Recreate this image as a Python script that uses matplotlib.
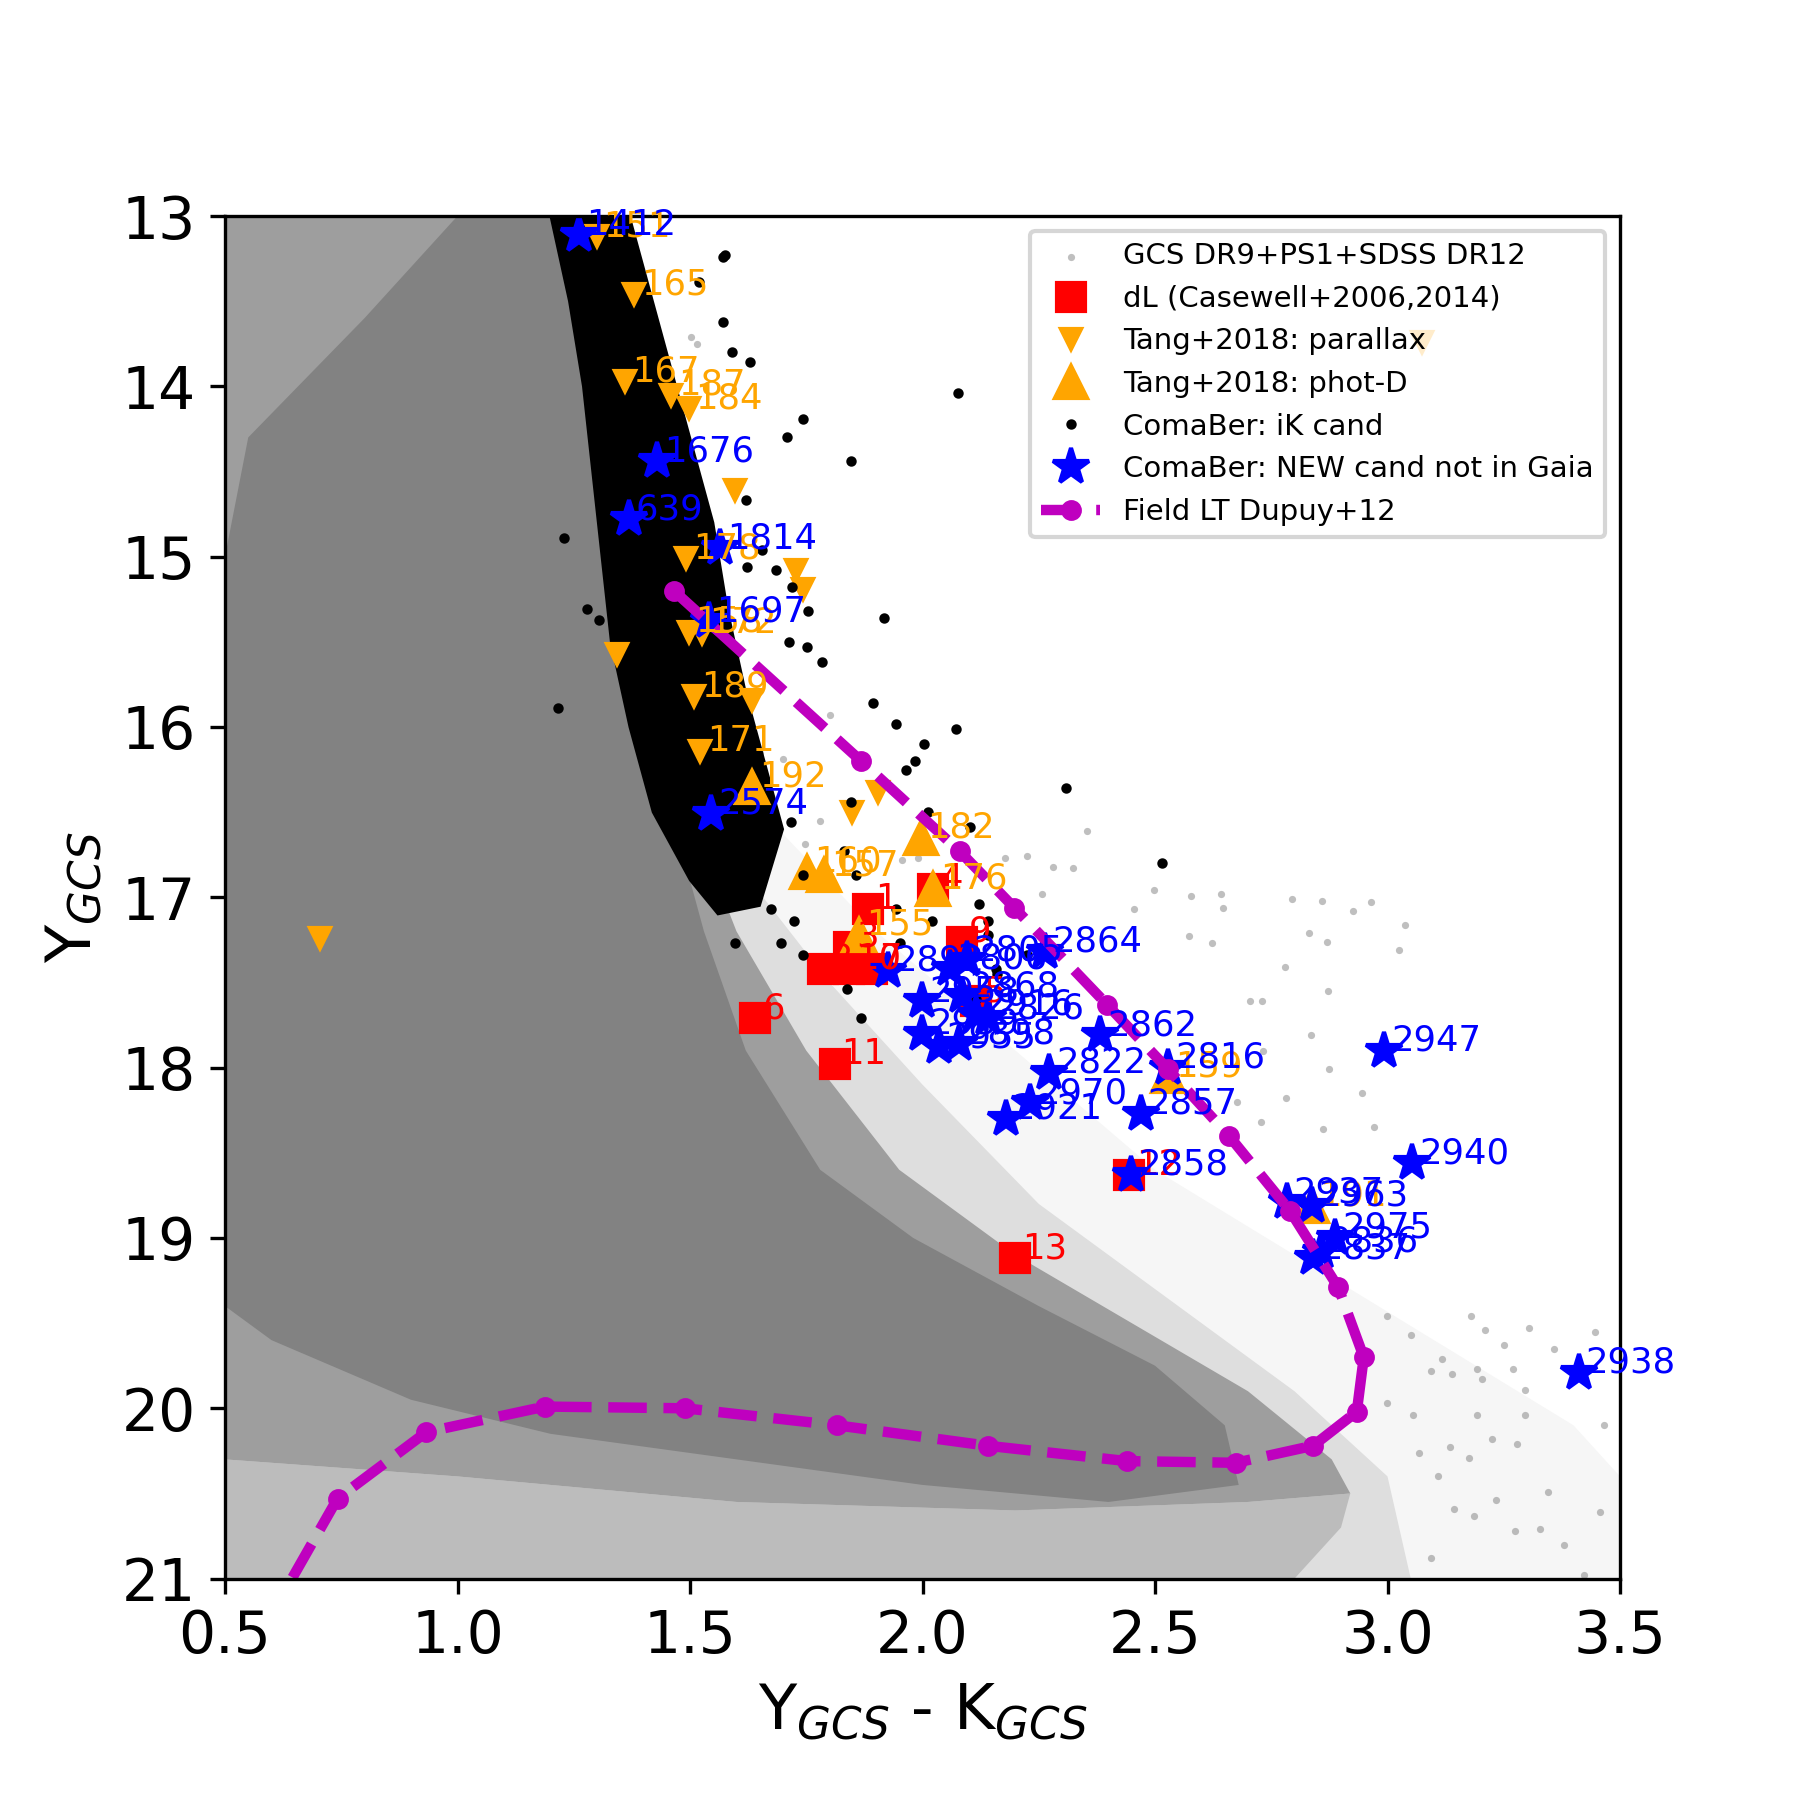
import numpy as np
import matplotlib
matplotlib.use('Agg')
import matplotlib.pyplot as plt

sparse_x = [0.5, 1.30, 1.45, 1.62, 1.90, 2.20, 2.50, 2.80, 3.10, 3.40, 3.50, 3.50, 0.5]
sparse_y = [13.0, 13.0, 15.5, 16.4, 17.2, 17.9, 18.6, 19.1, 19.6, 20.1, 20.4, 21.0, 21.0]

mid_x = [0.5, 1.30, 1.45, 1.60, 1.80, 2.00, 2.25, 2.55, 2.80, 3.00, 3.05, 0.5]
mid_y = [13.0, 13.0, 15.8, 16.8, 17.5, 18.1, 18.8, 19.4, 19.9, 20.4, 21.0, 21.0]

low_x = [0.5, 1.0, 1.6, 2.2, 2.7, 2.92, 2.90, 2.80, 0.5]
low_y = [20.3, 20.4, 20.55, 20.6, 20.55, 20.5, 20.7, 21.0, 21.0]

speck_x = [0.5, 1.25, 1.33, 1.42, 1.50, 1.60, 1.75, 1.95, 2.20, 2.45, 2.70, 2.88, 2.92, 2.70, 2.20, 1.60, 1.00, 0.5]
speck_y = [13.0, 13.0, 14.5, 15.8, 16.5, 17.2, 17.9, 18.6, 19.1, 19.5, 19.9, 20.3, 20.5, 20.55, 20.6, 20.55, 20.4, 20.3]

core_x = [0.5, 0.55, 0.80, 1.00, 1.22, 1.27, 1.32, 1.38, 1.46, 1.53, 1.62, 1.78, 1.98, 2.25, 2.50, 2.65,
          2.68, 2.40, 2.00, 1.60, 1.20, 0.90, 0.60, 0.5]
core_y = [15.0, 14.3, 13.6, 13.0, 13.0, 14.0, 14.8, 15.5, 16.5, 17.2, 17.9, 18.6, 19.0, 19.4, 19.75, 20.1,
          20.45, 20.55, 20.45, 20.3, 20.15, 19.95, 19.6, 19.4]

# sparse GCS sources picked out individually
gcs_x = [2.498, 2.577, 2.642, 2.646, 2.795, 2.859, 2.965, 2.926, 3.038, 2.455, 2.831, 2.870, 2.573, 2.623,
         3.025, 2.780, 2.872, 2.704, 2.730, 2.835, 2.732, 2.874, 2.945, 2.782, 2.971, 2.861, 2.728, 2.677,
         3.358, 3.466, 3.345, 3.457, 3.422, 3.274, 3.328, 3.380, 3.233, 3.296, 3.279, 3.225, 3.192, 3.135,
         3.175, 3.068, 3.109, 3.143, 3.186, 3.094, 3.055, 2.999, 3.094, 3.139, 3.193, 3.250, 3.270, 3.296,
         3.203, 3.117, 3.051, 2.999, 3.179, 3.209, 3.304, 3.446, 1.502, 1.515, 1.700, 1.651, 1.747, 1.945,
         1.801, 1.990, 1.780, 2.354, 2.324, 2.281, 2.257, 2.177, 2.225, 1.956]
gcs_y = [16.96, 16.99, 16.98, 17.06, 17.01, 17.02, 17.03, 17.08, 17.16, 17.07, 17.21, 17.26, 17.23, 17.27,
         17.31, 17.41, 17.55, 17.61, 17.61, 17.81, 17.90, 18.01, 18.15, 18.18, 18.35, 18.36, 18.32, 18.20,
         19.65, 20.10, 20.49, 20.61, 20.98, 20.72, 20.71, 20.80, 20.54, 20.04, 20.21, 20.18, 20.04, 20.23,
         20.29, 20.26, 20.40, 20.59, 20.63, 20.88, 20.04, 19.97, 19.78, 19.80, 19.77, 19.63, 19.77, 19.89,
         19.83, 19.71, 19.57, 19.46, 19.46, 19.54, 19.53, 19.55, 13.71, 13.75, 16.19, 16.15, 16.69, 15.99,
         15.93, 16.77, 16.55, 16.61, 16.83, 16.82, 16.98, 16.77, 16.76, 16.78]

# --- dL (Casewell+2006,2014) ---
dl_x = [1.883, 2.023, 2.085, 1.843, 1.786, 1.843, 1.892, 1.640, 1.811, 2.199, 2.444, 2.115]
dl_y = [17.07, 16.95, 17.26, 17.29, 17.42, 17.42, 17.42, 17.71, 17.98, 19.12, 18.63, 17.61]
dl_lab = ['1', '4', '9', '3', '2', '10', '7', '6', '11', '13', '12', '5']

# --- Tang+2018 parallax members ---
par_x = [1.299, 1.380, 1.361, 1.460, 1.497, 1.596, 1.492, 1.727, 1.744, 1.497, 1.526, 1.343, 1.509, 1.633,
         1.521, 1.848, 1.905, 0.705, 3.075]
par_y = [13.12, 13.46, 13.97, 14.05, 14.13, 14.61, 15.01, 15.08, 15.19, 15.44, 15.45, 15.57, 15.82, 15.84,
         16.14, 16.50, 16.38, 17.24, 13.74]
par_lab = ['151', '165', '167', '187', '184', '', '178', '', '', '158', '172', '', '189', '',
           '171', '', '', '', '']

# --- Tang+2018 photometric-distance members ---
phd_x = [1.633, 1.752, 1.789, 1.863, 1.996, 2.023, 2.528, 2.837]
phd_y = [16.35, 16.85, 16.87, 17.22, 16.65, 16.95, 18.05, 18.81]
phd_lab = ['192', '160', '157', '155', '182', '176', '159', '191']

# --- ComaBer iK candidates: dense sequence envelope + individual outliers ---
band_x = [1.20, 1.24, 1.27, 1.29, 1.31, 1.33, 1.37, 1.42, 1.50, 1.56, 1.65, 1.70, 1.66, 1.62, 1.58, 1.55, 1.50, 1.45, 1.40, 1.37]
band_y = [13.0, 13.5, 14.0, 14.5, 15.0, 15.5, 16.0, 16.5, 16.9, 17.1, 17.05, 16.6, 16.2, 15.8, 15.3, 14.8, 14.3, 13.8, 13.3, 13.0]

ik_x = [1.571, 1.519, 1.575, 1.571, 1.590, 1.628, 2.076, 1.744, 1.709, 1.846, 1.620, 1.230, 1.655, 1.623,
        1.685, 1.719, 1.754, 1.917, 1.712, 1.751, 1.217, 1.784, 1.893, 1.942, 2.073, 2.004, 1.984, 1.964,
        2.308, 2.516, 2.103, 2.011, 1.846, 1.717, 1.831, 1.856, 1.744, 1.675, 1.724, 1.944, 2.021, 2.140,
        2.122, 2.140, 1.952, 2.058, 1.596, 1.695, 1.744, 1.838, 1.868, 1.996, 2.115, 2.157, 1.278, 1.304,
        2.225, 2.160]
ik_y = [13.24, 13.39, 13.23, 13.62, 13.80, 13.86, 14.04, 14.19, 14.30, 14.44, 14.67, 14.89, 14.96, 15.06,
        15.08, 15.18, 15.32, 15.36, 15.50, 15.53, 15.89, 15.62, 15.86, 15.98, 16.01, 16.10, 16.20, 16.25,
        16.36, 16.80, 16.59, 16.50, 16.44, 16.56, 16.73, 16.87, 16.87, 17.07, 17.14, 17.07, 17.14, 17.14,
        17.04, 17.22, 17.27, 17.42, 17.27, 17.27, 17.34, 17.54, 17.71, 17.81, 17.60, 17.42, 15.31, 15.37,
        17.34, 17.45]

# --- ComaBer NEW candidates not in Gaia ---
new_x = [1.262, 1.430, 1.368, 1.564, 1.541, 1.546, 1.925, 2.060, 2.095, 2.264, 1.999, 2.085, 2.115, 2.140,
         1.999, 2.036, 2.078, 2.382, 2.273, 2.528, 2.231, 2.179, 2.469, 2.449, 2.993, 3.053, 2.783, 2.837,
         2.887, 2.857, 2.840, 3.411]
new_y = [13.11, 14.44, 14.78, 14.95, 15.38, 16.51, 17.43, 17.42, 17.37, 17.32, 17.61, 17.58, 17.69, 17.71,
         17.80, 17.88, 17.86, 17.81, 18.03, 18.00, 18.21, 18.30, 18.27, 18.63, 17.90, 18.56, 18.79, 18.81,
         19.00, 19.08, 19.12, 19.79]
new_lab = ['1412', '1676', '639', '1814', '1697', '2574', '2892', '2806', '2805', '2864', '2958', '2868',
           '2916', '2826', '2939', '2955', '2898', '2862', '2822', '2816', '2970', '2921', '2857', '2858',
           '2947', '2940', '2937', '2963', '2975', '2836', '2837', '2938']

# --- Field LT sequence (Dupuy+12) ---
lt_x = [1.465, 1.868, 2.080, 2.197, 2.397, 2.528, 2.659, 2.790, 2.894, 2.949, 2.934, 2.840, 2.674, 2.439,
        2.140, 1.816, 1.489, 1.188, 0.933, 0.742, 0.550]
lt_y = [15.20, 16.20, 16.73, 17.06, 17.63, 18.01, 18.40, 18.84, 19.29, 19.70, 20.02, 20.22, 20.32, 20.31,
        20.22, 20.10, 20.00, 19.99, 20.14, 20.53, 21.45]

plt.rcParams['font.size'] = 14

fig = plt.figure(figsize=(6, 6), dpi=300)
ax = fig.add_axes([0.125, 0.123, 0.775, 0.757])

# field cloud envelopes
ax.fill(sparse_x, sparse_y, color='#f6f6f6', lw=0, zorder=0.1)
ax.fill(mid_x, mid_y, color='#dedede', lw=0, zorder=0.2)
ax.fill(low_x, low_y, color='#bcbcbc', lw=0, zorder=0.25)
ax.fill(speck_x, speck_y, color='#9e9e9e', lw=0, zorder=0.3)
ax.fill(core_x, core_y, color='#828282', lw=0, zorder=0.4)

off = 0.015
fs = 8.5
ax.scatter(gcs_x, gcs_y, s=3, c='gray', alpha=0.5, lw=0, label='GCS DR9+PS1+SDSS DR12')

ax.plot(dl_x, dl_y, 'rs', ms=6.5, label='dL (Casewell+2006,2014)')
for x, y, t in zip(dl_x, dl_y, dl_lab):
    ax.text(x + off, y, t, color='r', fontsize=fs)

ax.plot(par_x, par_y, 'v', color='orange', ms=5, label='Tang+2018: parallax')
for x, y, t in zip(par_x, par_y, par_lab):
    ax.text(x + off, y, t, color='orange', fontsize=fs)

ax.plot(phd_x, phd_y, '^', color='orange', ms=7.5, label='Tang+2018: phot-D')
for x, y, t in zip(phd_x, phd_y, phd_lab):
    ax.text(x + off, y, t, color='orange', fontsize=fs)

ax.fill(band_x, band_y, color='k', lw=0.5, zorder=1.5)
ax.plot(ik_x, ik_y, 'k.', ms=3, label='ComaBer: iK cand')

ax.plot(new_x, new_y, 'b*', ms=9, label='ComaBer: NEW cand not in Gaia')
for x, y, t in zip(new_x, new_y, new_lab):
    ax.text(x + off, y, t, color='b', fontsize=fs)

ax.plot(lt_x, lt_y, 'm--o', lw=2.5, ms=4, label='Field LT Dupuy+12')

ax.set_xlim(0.5, 3.5)
ax.set_ylim(21, 13)
ax.set_xticks([0.5, 1.0, 1.5, 2.0, 2.5, 3.0, 3.5])
ax.set_xlabel(r'Y$_{GCS}$ - K$_{GCS}$', fontsize=15)
ax.set_ylabel(r'Y$_{GCS}$', fontsize=15)
ax.legend(loc='upper right', fontsize=7, numpoints=1, scatterpoints=1)

fig.savefig('out.png', dpi=300)
